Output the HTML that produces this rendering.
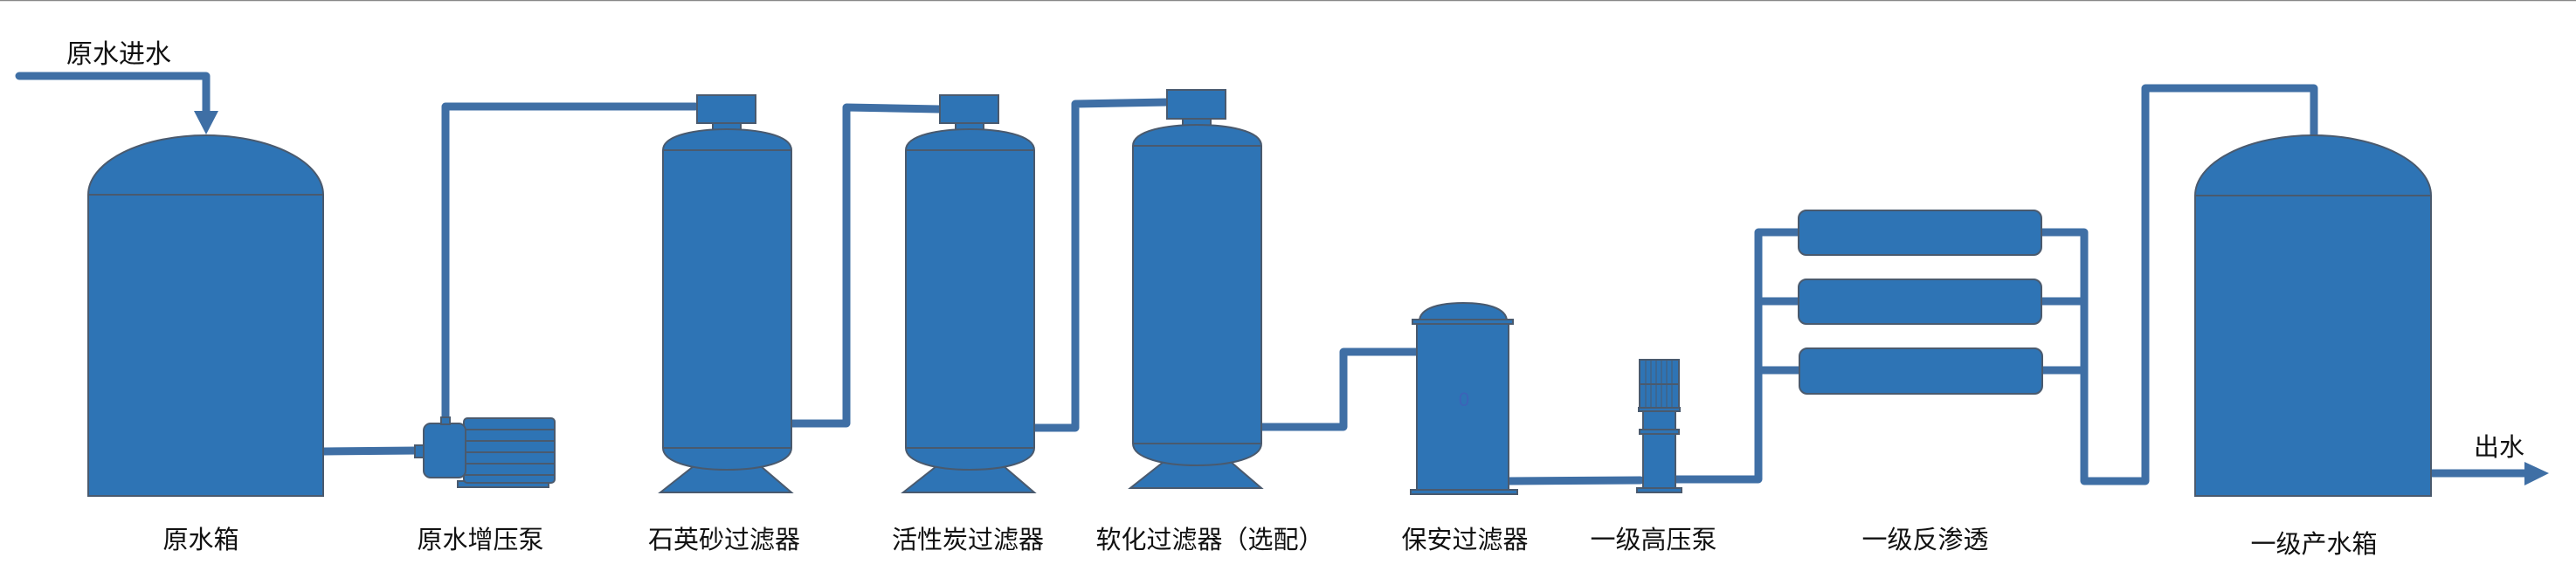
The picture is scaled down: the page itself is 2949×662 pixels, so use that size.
<!DOCTYPE html>
<html><head><meta charset="utf-8"><style>
html,body{margin:0;padding:0;background:#fff;}
svg{display:block;}
text{font-family:"Liberation Sans","Noto Sans CJK SC",sans-serif;fill:#111;}
</style></head><body>
<svg width="2949" height="662" viewBox="0 0 2949 662" xmlns="http://www.w3.org/2000/svg">
<rect x="0" y="0" width="2949" height="662" fill="#fff"/>
<line x1="0" y1="0.5" x2="2949" y2="0.5" stroke="#888" stroke-width="1.5"/>
<g fill="none" stroke="#3f6fa5" stroke-width="9" stroke-linejoin="round" stroke-linecap="round">
<polyline points="22,87 236,87 236,128"/>
<polyline points="370,517 478,516"/>
<polyline points="510,485 510,122 796,122"/>
<polyline points="906,485 969,485 969,123 1075,125"/>
<polyline points="1184,490 1231,490 1231,119 1337,117"/>
<polyline points="1442,489 1538,489 1538,403 1622,403"/>
<polyline points="1727,551 1878,550"/>
<polyline points="1918,549 2013,549 2013,266 2059,266"/>
<polyline points="2013,345 2059,345"/>
<polyline points="2013,424 2059,424"/>
<polyline points="2337,266 2386,266 2386,551 2456,551 2456,101 2649,101 2649,156"/>
<polyline points="2337,345 2386,345"/>
<polyline points="2337,424 2386,424"/>
<polyline points="2783,542 2892,542"/>
</g>
<polygon points="222,127 250,127 236,154" fill="#3f6fa5"/>
<polygon points="2890,529 2918,542 2890,556" fill="#3f6fa5"/>
<g fill="#2e74b5" stroke="#4a5a6e" stroke-width="2">
<!-- raw tank -->
<path d="M101,568 L101,223 A134.5,68 0 0 1 370,223 L370,568 Z"/>
<line x1="101" y1="223" x2="370" y2="223"/>
<!-- pump -->
<rect x="524" y="551" width="104" height="7"/>
<rect x="531" y="479" width="104" height="74" rx="4"/>
<line x1="531" y1="492" x2="635" y2="492"/><line x1="531" y1="505" x2="635" y2="505"/>
<line x1="531" y1="518" x2="635" y2="518"/><line x1="531" y1="531" x2="635" y2="531"/><line x1="531" y1="544" x2="635" y2="544"/>
<rect x="485" y="485" width="48" height="62" rx="8"/>
<rect x="475" y="510" width="10" height="14"/>
<rect x="505" y="478" width="10" height="8"/>
<!-- filters -->
<g id="f1">
<rect x="798" y="109" width="67" height="32"/>
<rect x="816" y="141" width="32" height="8"/>
<polygon points="794,534 871,534 906,564 756,564"/>
<path d="M759,513 L759,172 C759,154 800,148 832,148 C865,148 906,154 906,172 L906,513 C906,530 870,538 832,538 C795,538 759,530 759,513 Z"/>
<line x1="759" y1="172" x2="906" y2="172"/><line x1="759" y1="513" x2="906" y2="513"/>
</g>
<g transform="translate(278,0)">
<rect x="798" y="109" width="67" height="32"/>
<rect x="816" y="141" width="32" height="8"/>
<polygon points="794,534 871,534 906,564 756,564"/>
<path d="M759,513 L759,172 C759,154 800,148 832,148 C865,148 906,154 906,172 L906,513 C906,530 870,538 832,538 C795,538 759,530 759,513 Z"/>
<line x1="759" y1="172" x2="906" y2="172"/><line x1="759" y1="513" x2="906" y2="513"/>
</g>
<g transform="translate(538,-5)">
<rect x="798" y="108" width="67" height="33"/>
<rect x="816" y="141" width="32" height="8"/>
<polygon points="794,534 871,534 906,564 756,564"/>
<path d="M759,513 L759,172 C759,154 800,148 832,148 C865,148 906,154 906,172 L906,513 C906,530 870,538 832,538 C795,538 759,530 759,513 Z"/>
<line x1="759" y1="172" x2="906" y2="172"/><line x1="759" y1="513" x2="906" y2="513"/>
</g>
<!-- security filter -->
<path d="M1625,368 C1625,352 1650,347 1675,347 C1700,347 1725,352 1725,368 Z"/>
<rect x="1622" y="370" width="105" height="191"/>
<rect x="1617" y="366" width="115" height="5"/>
<rect x="1615" y="561" width="122" height="5"/>
<!-- high pressure pump -->
<rect x="1881" y="469" width="37" height="92"/>
<rect x="1877" y="412" width="45" height="57"/>
<line x1="1884" y1="412" x2="1884" y2="468" stroke-width="1"/><line x1="1890" y1="412" x2="1890" y2="468" stroke-width="1"/>
<line x1="1896" y1="412" x2="1896" y2="468" stroke-width="1"/><line x1="1902" y1="412" x2="1902" y2="468" stroke-width="1"/>
<line x1="1908" y1="412" x2="1908" y2="468" stroke-width="1"/><line x1="1914" y1="412" x2="1914" y2="468" stroke-width="1"/>
<line x1="1877" y1="440" x2="1922" y2="440"/>
<rect x="1876" y="467" width="47" height="4"/>
<rect x="1877" y="492" width="45" height="5"/>
<rect x="1874" y="559" width="51" height="5"/>
<!-- membranes -->
<rect x="2059" y="241" width="278" height="51" rx="9"/>
<rect x="2059" y="320" width="278" height="51" rx="9"/>
<rect x="2060" y="399" width="278" height="52" rx="9"/>
<!-- product tank -->
<path d="M2513,568 L2513,224 A135,69 0 0 1 2783,224 L2783,568 Z"/>
<line x1="2513" y1="224" x2="2783" y2="224"/>
</g>
<text x="1676" y="465" font-size="22" fill="#3d63b8" style="fill:#3d63b8" text-anchor="middle">0</text>
<g font-size="29" text-anchor="middle">
<text x="136" y="72" font-size="30">原水进水</text>
<text x="230" y="628">原水箱</text>
<text x="550" y="628">原水增压泵</text>
<text x="829" y="628">石英砂过滤器</text>
<text x="1108" y="628">活性炭过滤器</text>
<text x="1385" y="628">软化过滤器（选配）</text>
<text x="1677" y="628">保安过滤器</text>
<text x="1893" y="628">一级高压泵</text>
<text x="2204" y="628">一级反渗透</text>
<text x="2649" y="633">一级产水箱</text>
<text x="2861" y="522">出水</text>
</g>
</svg>
</body></html>
